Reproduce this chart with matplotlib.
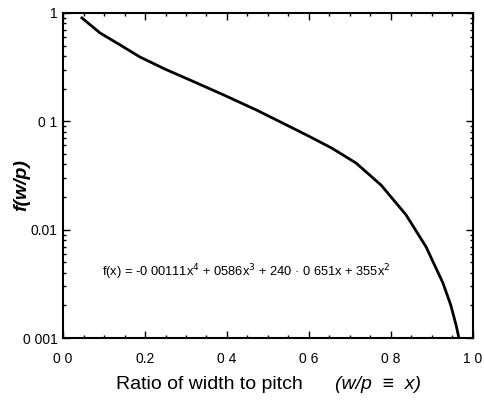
import matplotlib
matplotlib.use('Agg')
import matplotlib.pyplot as plt
from matplotlib.ticker import FixedLocator, LogLocator, NullFormatter

# curve
ratio = [0.046, 0.090, 0.139, 0.187, 0.248, 0.309, 0.392, 0.472, 0.516,
         0.594, 0.655, 0.715, 0.776, 0.837, 0.886, 0.927, 0.946, 0.959, 0.966]
fval = [0.899, 0.654, 0.507, 0.393, 0.304, 0.241, 0.175, 0.127, 0.105,
        0.0748, 0.0568, 0.0412, 0.0258, 0.0137, 0.00692, 0.00322, 0.00202,
        0.00132, 0.001]

xticks = [0.0, 0.2, 0.4, 0.6, 0.8, 1.0]
xticklabels = ['0 0', '0.2', '0 4', '0 6', '0 8', '1 0']
yticks = [0.001, 0.01, 0.1, 1]
yticklabels = ['0 001', '0.01', '0 1', '1']

formula = 'f(x) = -0 00111x$^4$ + 0586x$^3$ + 240 · 0 651x + 355x$^2$'

plt.rcParams['font.family'] = ['Liberation Sans', 'DejaVu Sans']

fig = plt.figure(figsize=(4.85, 4.03), dpi=100)
ax = fig.add_axes([0.130, 0.161, 0.845, 0.807])

ax.plot(ratio, fval, color='black', lw=2.0)

ax.set_yscale('log')
ax.set_xlim(0, 1.0)
ax.set_ylim(0.001, 1)

ax.xaxis.set_major_locator(FixedLocator(xticks))
ax.set_xticklabels(xticklabels, fontsize=10)
ax.xaxis.set_minor_locator(FixedLocator([i * 0.05 for i in range(21)]))
ax.yaxis.set_major_locator(FixedLocator(yticks))
ax.set_yticklabels(yticklabels, fontsize=10)
ax.yaxis.set_minor_locator(LogLocator(base=10, subs=range(2, 10)))
ax.yaxis.set_minor_formatter(NullFormatter())

ax.tick_params(which='both', direction='in', top=True, right=True, width=1.0)
ax.tick_params(axis='x', which='major', length=5, pad=10)
ax.tick_params(axis='y', which='major', length=5, pad=4)
ax.tick_params(which='minor', length=2.5)
for s in ax.spines.values():
    s.set_linewidth(1.5)

ax.text(0.095, 0.0037, formula, fontsize=9.3)

fig.text(0.240, 0.035, 'Ratio of width to pitch', fontsize=14)
fig.text(0.690, 0.035, '(w/p  ≡  x)', fontsize=14, style='italic')
fig.text(0.045, 0.54, 'f(w/p)', fontsize=14, style='italic', weight='bold',
         rotation=90, va='center', ha='center')

fig.savefig('out.png', dpi=100)
